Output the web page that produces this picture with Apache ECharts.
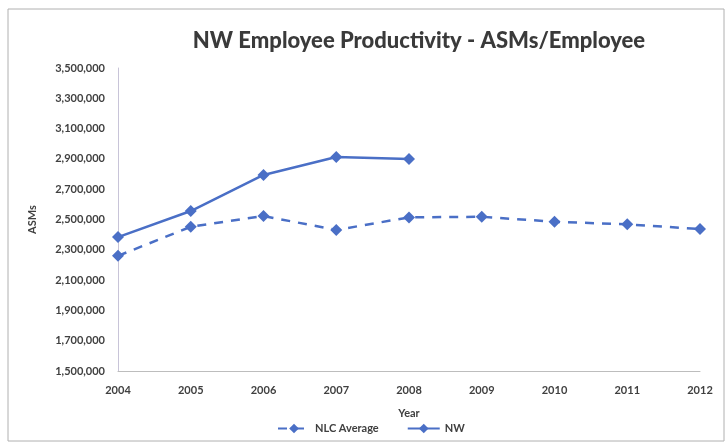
<!DOCTYPE html>
<html>
<head>
<meta charset="utf-8">
<script src="https://cdn.jsdelivr.net/npm/echarts@6/dist/echarts.min.js"></script>
<style>html,body{margin:0;padding:0;background:#fff;}#c{width:725px;height:446px;}</style>
</head>
<body>
<div id="c"></div>
<script>
var years = ['2004','2005','2006','2007','2008','2009','2010','2011','2012'];
var nlcAverage = [2260000, 2452000, 2523000, 2431000, 2514000, 2518000, 2485000, 2468000, 2437000];
var nw = [2384000, 2556000, 2794000, 2912000, 2899000, null, null, null, null];
var yMin = 1500000, yMax = 3500000, yStep = 200000;

var color = '#4A6FC6';
var font = 'Lato, "Open Sans", sans-serif';
var chart = echarts.init(document.getElementById('c'));
chart.setOption({
  animation: false,
  graphic: [{
    type: 'rect', shape: {x: 8, y: 9, width: 716, height: 432},
    style: {fill: 'none', stroke: '#b0b0b0', lineWidth: 1}, z: -10
  }],
  title: {
    text: 'NW Employee Productivity - ASMs/Employee',
    left: 414, top: 25, textAlign: 'center',
    textStyle: {fontFamily: font, fontSize: 22, fontWeight: 900, color: '#3a3a3a'}
  },
  grid: {left: 118, right: 25, top: 68, bottom: 75, containLabel: false},
  legend: {
    left: 272, top: 418, itemWidth: 32, itemHeight: 12, itemGap: 28,
    textStyle: {fontFamily: font, fontSize: 11, fontWeight: 'bold', color: '#404040'},
    data: ['NLC Average', 'NW']
  },
  xAxis: {
    type: 'category', data: years, boundaryGap: false,
    name: 'Year', nameLocation: 'middle', nameGap: 37,
    nameTextStyle: {fontFamily: font, fontSize: 11, fontWeight: 'bold', color: '#404040'},
    axisLine: {lineStyle: {color: '#bdbdbd'}},
    axisTick: {show: false},
    axisLabel: {fontFamily: font, fontSize: 11, fontWeight: 'bold', color: '#404040', margin: 14}
  },
  yAxis: {
    type: 'value', min: yMin, max: yMax, interval: yStep,
    name: 'ASMs', nameLocation: 'middle', nameGap: 80, nameRotate: 90,
    nameTextStyle: {fontFamily: font, fontSize: 11, fontWeight: 'bold', color: '#404040'},
    axisLine: {show: true, lineStyle: {color: '#c8c4d8'}},
    axisTick: {show: false},
    splitLine: {show: false},
    axisLabel: {fontFamily: font, fontSize: 11, fontWeight: 'bold', color: '#404040', margin: 13,
      formatter: function (v) { return v.toLocaleString('en-US'); }}
  },
  series: [
    {
      name: 'NLC Average', type: 'line', data: nlcAverage,
      symbol: 'diamond', symbolSize: 12,
      lineStyle: {color: color, width: 2.5, type: [9, 8]},
      itemStyle: {color: color}
    },
    {
      name: 'NW', type: 'line', data: nw,
      symbol: 'diamond', symbolSize: 12,
      lineStyle: {color: color, width: 2.5},
      itemStyle: {color: color}
    }
  ]
});
</script>
</body>
</html>
